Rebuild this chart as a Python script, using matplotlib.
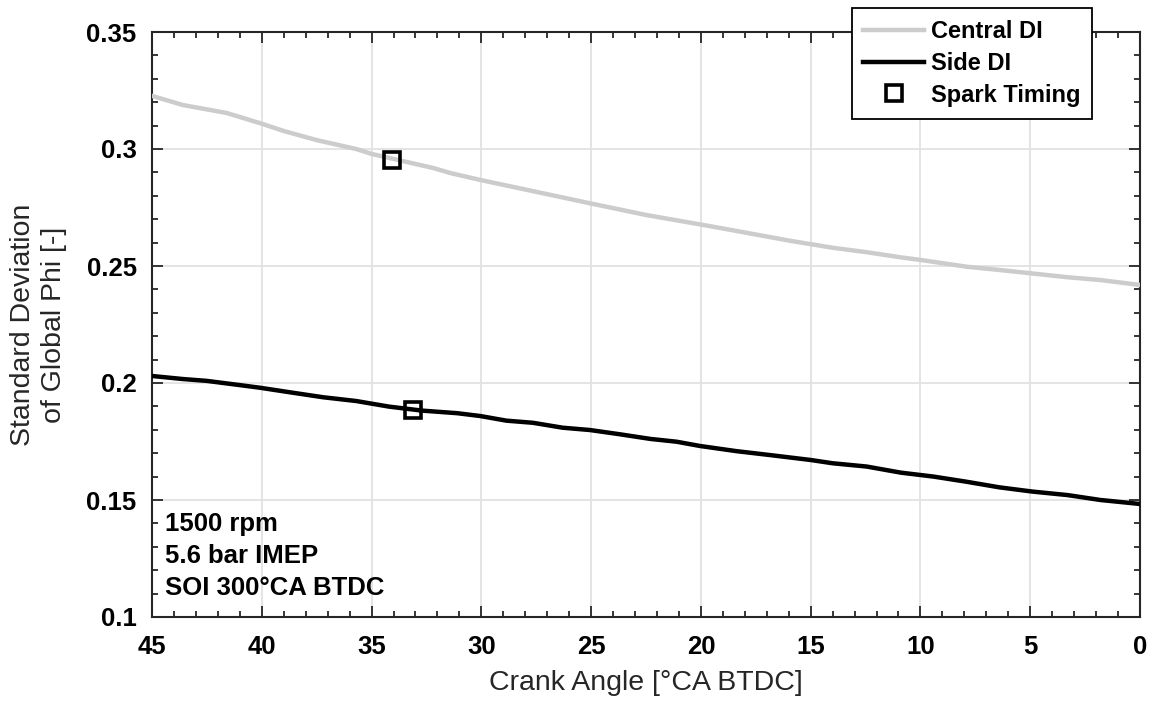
import matplotlib
matplotlib.use("Agg")
import matplotlib.pyplot as plt
from matplotlib.ticker import MultipleLocator

plt.rcParams['font.family'] = ['Liberation Sans', 'DejaVu Sans']

# Data
central_x = [45, 43.6, 41.6, 40.1, 39.0, 37.5, 35.7, 35.0, 32.2, 31.4, 30.06, 25.05, 22.5, 20.05, 18.8,
             15.95, 14.0, 12.45, 10.9, 10.0, 7.9, 6.4, 5.0, 3.3, 1.8, 0]
central_y = [0.3227, 0.3188, 0.3154, 0.3111, 0.3077, 0.3038, 0.3000, 0.2979, 0.2919, 0.2897, 0.2868,
             0.2768, 0.2718, 0.2678, 0.2657, 0.2608, 0.2578, 0.2559, 0.2537, 0.2526, 0.2497, 0.2483,
             0.2469, 0.2452, 0.2440, 0.2419]

side_x = [45, 43.6, 42.5, 41.0, 40.1, 38.7, 37.2, 35.7, 34.2, 32.7, 31.1, 30.06, 28.85, 27.65, 26.3,
          25.05, 23.7, 22.3, 21.1, 20.05, 18.4, 16.85, 15.0, 14.0, 12.45, 10.9, 9.4, 7.9, 6.4, 4.9,
          3.3, 1.8, 0]
side_y = [0.2030, 0.2017, 0.2009, 0.1991, 0.1980, 0.1960, 0.1939, 0.1923, 0.1899, 0.1882, 0.1871,
          0.1859, 0.1839, 0.1830, 0.1809, 0.1799, 0.1781, 0.1761, 0.1749, 0.1731, 0.1709, 0.1692,
          0.1671, 0.1657, 0.1643, 0.1617, 0.1600, 0.1578, 0.1554, 0.1536, 0.1521, 0.1500, 0.1483]

spark_x = [34.07, 33.1]
spark_y = [0.2953, 0.1885]

yticks = [0.1, 0.15, 0.2, 0.25, 0.3, 0.35]
ytick_labels = ['0.1', '0.15', '0.2', '0.25', '0.3', '0.35']
annotation = ["1500 rpm", "5.6 bar IMEP", "SOI 300°CA BTDC"]

fig = plt.figure(figsize=(11.53, 7.04), dpi=100)
ax = fig.add_axes([152/1153, 1 - 617/704, (1140-152)/1153, (617-32)/704])

ax.plot(central_x, central_y, color='#cccccc', lw=3.2, label='Central DI', zorder=3)
ax.plot(side_x, side_y, color='black', lw=3.2, label='Side DI', zorder=3)
ax.plot(spark_x, spark_y, ls='none', marker='s', ms=12, mfc='none', mec='black', mew=2.6,
        label='Spark Timing', zorder=4)

ax.set_xlim(45, 0)
ax.set_ylim(0.1, 0.35)
ax.xaxis.set_major_locator(MultipleLocator(5))
ax.xaxis.set_minor_locator(MultipleLocator(1))
ax.yaxis.set_minor_locator(MultipleLocator(0.01))
ax.set_yticks(yticks)
ax.set_yticklabels(ytick_labels)
ax.grid(True, which='major', color='#e2e2e2', lw=1.3, zorder=0)
ax.tick_params(which='both', direction='in', top=True, right=True, labelsize=18.5, width=1.3,
               colors='#262626', labelcolor='black')
ax.tick_params(axis='y', pad=11)
ax.tick_params(axis='x', pad=13)
ax.tick_params(which='major', length=8)
ax.tick_params(which='minor', length=4)
for lab in ax.get_xticklabels() + ax.get_yticklabels():
    lab.set_fontweight('bold')
for s in ax.spines.values():
    s.set_linewidth(1.5)
    s.set_color('#262626')

ax.set_xlabel('Crank Angle [°CA BTDC]', fontsize=20.5, labelpad=8, color='#262626')
ax.set_ylabel('Standard Deviation\nof Global Phi [-]', fontsize=20.5, labelpad=14, color='#262626',
              linespacing=1.25)

ax.text(0.013, 0.18, "\n".join(annotation), transform=ax.transAxes, fontsize=18.5,
        fontweight='bold', va='top', ha='left', linespacing=1.42)

leg = ax.legend(loc='upper right', bbox_to_anchor=((1092-152)/988, (617-8)/585),
                borderaxespad=0, prop={'size': 17, 'weight': 'bold'}, frameon=True,
                fancybox=False, edgecolor='black', handlelength=2.55, borderpad=0.5,
                labelspacing=0.38, handletextpad=0.3)
leg.get_frame().set_linewidth(1.3)
leg.get_frame().set_alpha(1)
leg.set_zorder(10)

fig.savefig('out.png', dpi=100)
